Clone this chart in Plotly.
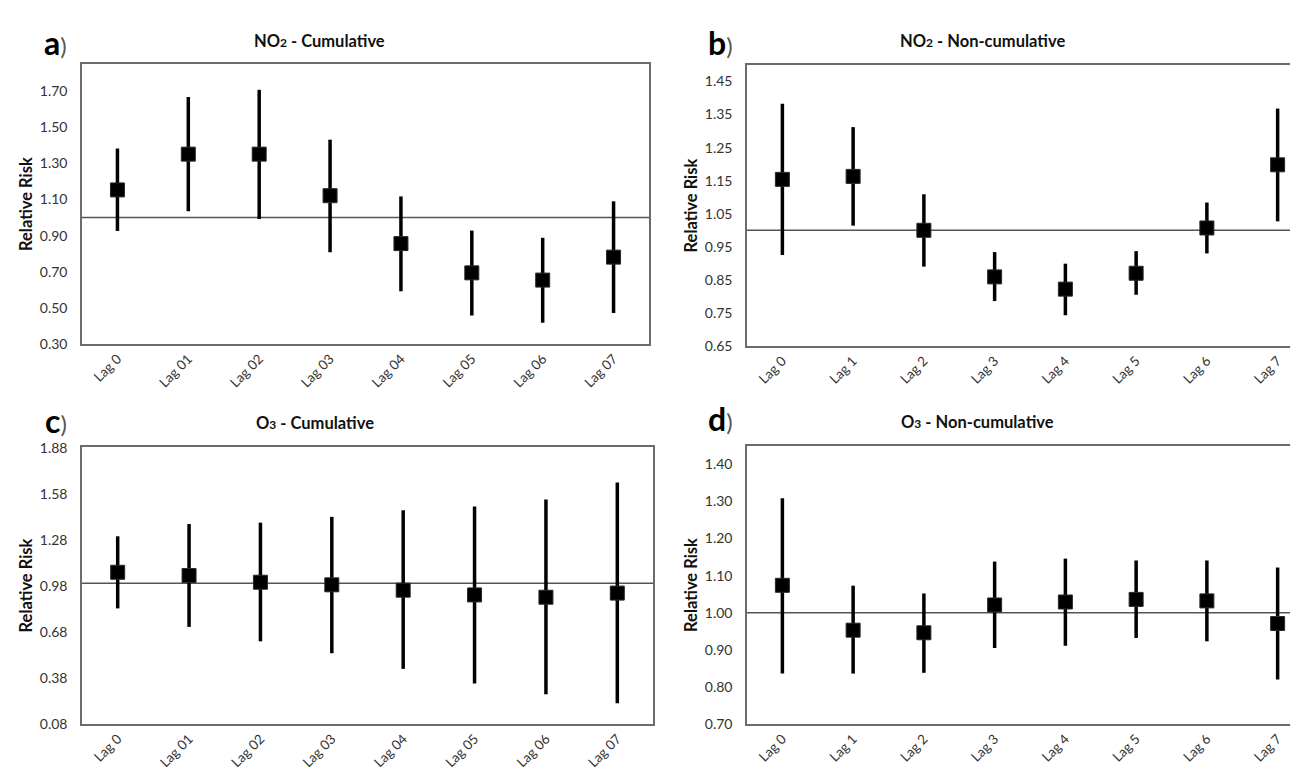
import plotly.graph_objects as go

W, H = 1298, 771

# ---- data ----
lags_cum = ["Lag 0", "Lag 01", "Lag 02", "Lag 03", "Lag 04", "Lag 05", "Lag 06", "Lag 07"]
lags_non = ["Lag 0", "Lag 1", "Lag 2", "Lag 3", "Lag 4", "Lag 5", "Lag 6", "Lag 7"]

no2_cum_rr = [1.153, 1.351, 1.351, 1.121, 0.856, 0.694, 0.654, 0.781]
no2_cum_lo = [0.926, 1.035, 0.992, 0.808, 0.592, 0.458, 0.418, 0.472]
no2_cum_hi = [1.382, 1.667, 1.707, 1.431, 1.117, 0.928, 0.888, 1.090]

no2_non_rr = [1.154, 1.163, 1.000, 0.859, 0.822, 0.870, 1.007, 1.198]
no2_non_lo = [0.925, 1.014, 0.890, 0.786, 0.743, 0.805, 0.930, 1.027]
no2_non_hi = [1.383, 1.312, 1.109, 0.934, 0.899, 0.937, 1.084, 1.368]

o3_cum_rr = [1.071, 1.050, 1.006, 0.989, 0.954, 0.923, 0.908, 0.935]
o3_cum_lo = [0.835, 0.714, 0.620, 0.542, 0.440, 0.344, 0.274, 0.216]
o3_cum_hi = [1.306, 1.386, 1.395, 1.433, 1.476, 1.501, 1.546, 1.657]

o3_non_rr = [1.074, 0.953, 0.946, 1.021, 1.029, 1.036, 1.032, 0.971]
o3_non_lo = [0.836, 0.836, 0.838, 0.905, 0.911, 0.932, 0.923, 0.820]
o3_non_hi = [1.309, 1.073, 1.052, 1.138, 1.146, 1.141, 1.141, 1.122]

ticks_a = [0.30, 0.50, 0.70, 0.90, 1.10, 1.30, 1.50, 1.70]
ticks_b = [0.65, 0.75, 0.85, 0.95, 1.05, 1.15, 1.25, 1.35, 1.45]
ticks_c = [0.08, 0.38, 0.68, 0.98, 1.28, 1.58, 1.88]
ticks_d = [0.70, 0.80, 0.90, 1.00, 1.10, 1.20, 1.30, 1.40]

panel_letters = ["a", "b", "c", "d"]
panel_titles = [
    "NO<span style='font-size:12px'>2</span> - Cumulative",
    "NO<span style='font-size:12px'>2</span> - Non-cumulative",
    "O<span style='font-size:12px'>3</span> - Cumulative",
    "O<span style='font-size:12px'>3</span> - Non-cumulative",
]
reference_rr = 1.0

# ---- layout geometry (pixels) ----
def px_x(v):
    return v / W

def px_y(v):
    return 1 - v / H

panels = [
    dict(cats=lags_cum, rr=no2_cum_rr, lo=no2_cum_lo, hi=no2_cum_hi, ticks=ticks_a,
         yr=[0.30, 1.85], box=(74, 641, 49, 335), full=True,
         title_xy=(311, 26), letter_xy=(47, 27)),
    dict(cats=lags_non, rr=no2_non_rr, lo=no2_non_lo, hi=no2_non_hi, ticks=ticks_b,
         yr=[0.65, 1.50], box=(739, 1305, 50, 337), full=False,
         title_xy=(974, 26), letter_xy=(712, 27)),
    dict(cats=lags_cum, rr=o3_cum_rr, lo=o3_cum_lo, hi=o3_cum_hi, ticks=ticks_c,
         yr=[0.08, 1.89], box=(74, 645, 440, 723), full=True,
         title_xy=(307, 416), letter_xy=(48, 413)),
    dict(cats=lags_non, rr=o3_non_rr, lo=o3_non_lo, hi=o3_non_hi, ticks=ticks_d,
         yr=[0.70, 1.45], box=(739, 1305, 439, 723), full=False,
         title_xy=(969, 415), letter_xy=(712, 411)),
]

FONT = "Lato"
fig = go.Figure()
annotations = []
shapes = []

for i, p in enumerate(panels):
    n = i + 1
    xa = "x" if n == 1 else f"x{n}"
    ya = "y" if n == 1 else f"y{n}"
    left, right, top, bottom = p["box"]
    ncat = len(p["cats"])
    step = (right - left) / ncat
    dom_right = min(right, W)
    xmax = -0.5 + (dom_right - left) / step

    fig.add_trace(go.Scatter(
        x=p["cats"], y=p["rr"], mode="markers",
        marker=dict(symbol="square", size=14, color="#000000",
                    line=dict(color="#2a2a2a", width=1)),
        error_y=dict(type="data", symmetric=False,
                     array=[h - r for h, r in zip(p["hi"], p["rr"])],
                     arrayminus=[r - l for r, l in zip(p["rr"], p["lo"])],
                     thickness=3.5, width=0, color="#000000"),
        xaxis=xa, yaxis=ya, showlegend=False, hoverinfo="skip",
    ))

    xkey = "xaxis" if n == 1 else f"xaxis{n}"
    ykey = "yaxis" if n == 1 else f"yaxis{n}"
    fig.update_layout(**{
        xkey: dict(domain=[px_x(left), px_x(dom_right)], anchor=ya,
                   type="category", range=[-0.5, xmax],
                   showline=True, mirror=True, linecolor="#6b6b6b", linewidth=1.5,
                   showgrid=False, zeroline=False, ticks="",
                   tickangle=-45, tickfont=dict(family=FONT, size=13.5, color="#333333")),
        ykey: dict(domain=[px_y(bottom), px_y(top)], anchor=xa,
                   range=p["yr"], tickvals=p["ticks"],
                   ticktext=[f"{t:.2f}" for t in p["ticks"]],
                   showline=True, mirror=p["full"], linecolor="#6b6b6b", linewidth=1.5,
                   showgrid=False, zeroline=False, ticks="", ticklabelstandoff=10,
                   tickfont=dict(family=FONT, size=14, color="#333333")),
    })

    shapes.append(dict(type="line", xref=f"{xa} domain", yref=ya,
                       x0=0, x1=1, y0=reference_rr, y1=reference_rr,
                       line=dict(color="#555555", width=1.5), layer="below"))

    tx, ty = p["title_xy"]
    annotations.append(dict(text="<b>" + panel_titles[i] + "</b>", x=px_x(tx), y=px_y(ty),
                            xref="paper", yref="paper", showarrow=False,
                            xanchor="center", yanchor="middle",
                            font=dict(family=FONT, size=16.5, color="#111111")))
    lx, ly = p["letter_xy"]
    annotations.append(dict(text="<b>" + panel_letters[i] + "</b><span style='font-size:24px;color:#555555'>)</span>",
                            x=px_x(lx), y=px_y(ly), xref="paper", yref="paper",
                            showarrow=False, xanchor="center", yanchor="middle",
                            font=dict(family=FONT, size=32, color="#000000")))
    annotations.append(dict(text="<b>Relative Risk</b>", x=px_x(left - 56), y=px_y((top + bottom) / 2),
                            xref="paper", yref="paper", showarrow=False, textangle=-90,
                            xanchor="center", yanchor="middle",
                            font=dict(family=FONT, size=16.5, color="#111111")))

fig.update_layout(width=W, height=H, margin=dict(l=0, r=0, t=0, b=0),
                  paper_bgcolor="white", plot_bgcolor="white",
                  annotations=annotations, shapes=shapes)

fig.write_html("out.html")
